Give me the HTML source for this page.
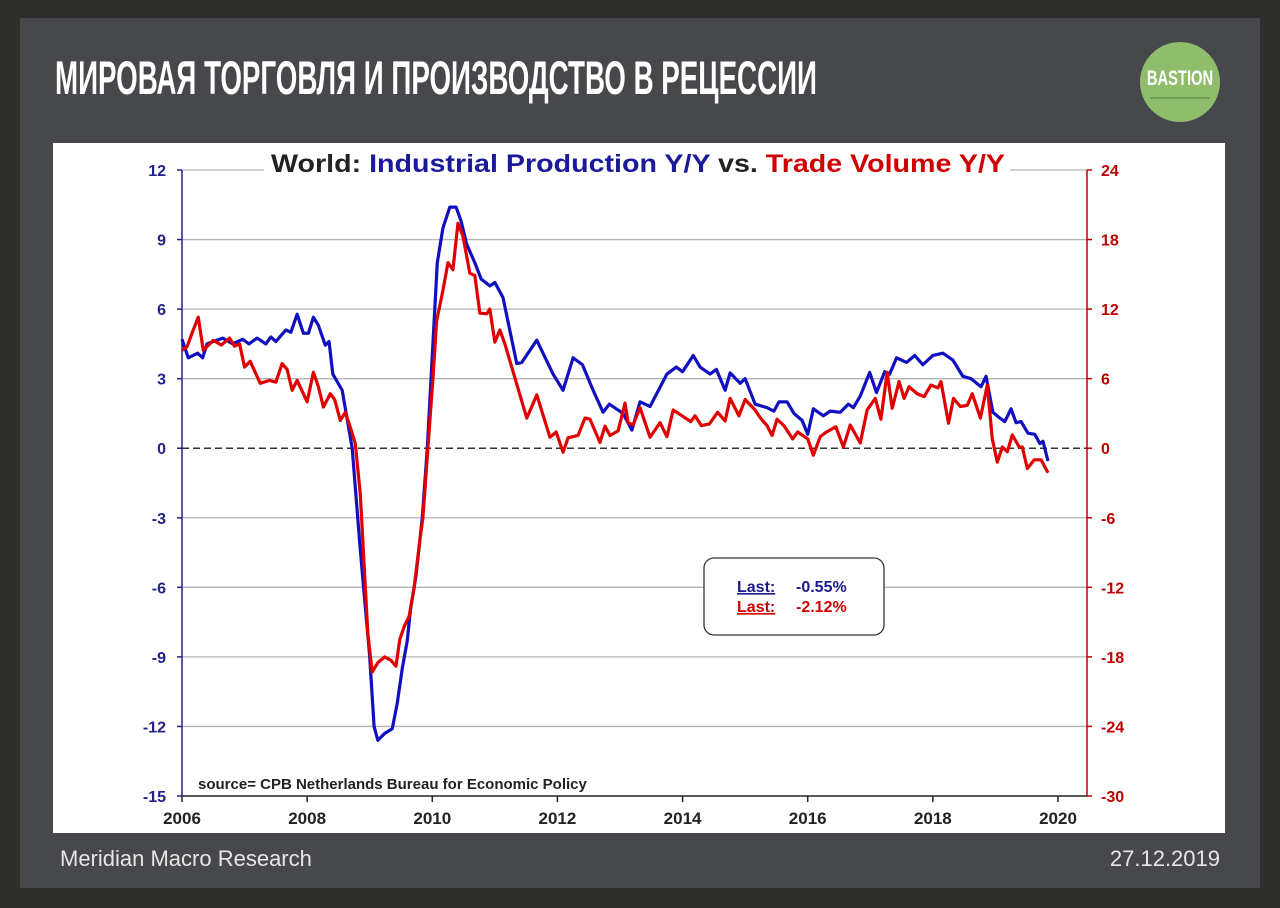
<!DOCTYPE html>
<html><head><meta charset="utf-8">
<style>
html,body{margin:0;padding:0}
body{width:1280px;height:908px;background:#2e2f2c;position:relative;overflow:hidden;font-family:"Liberation Sans",sans-serif}
#panel{position:absolute;left:20px;top:18px;width:1240px;height:870px;background:#47484b}
#title{position:absolute;left:55px;top:52px;color:#fff;font-family:"Liberation Sans Narrow","Liberation Sans",sans-serif;font-weight:bold;font-size:47px;line-height:52px;white-space:nowrap;transform-origin:0 0}
#logo{position:absolute;left:1140px;top:42px;width:80px;height:80px;border-radius:50%;background:#8fbd6c}
#logo span{position:absolute;left:-20px;width:120px;top:25px;text-align:center;color:#fff;font-family:"Liberation Sans Narrow","Liberation Sans",sans-serif;font-weight:bold;font-size:21px;transform:scaleX(0.7);transform-origin:60px 0}
#logo i{position:absolute;left:10px;width:60px;top:55px;height:2px;background:#6f9a52}
#chart{position:absolute;left:53px;top:143px;width:1172px;height:690px;background:#fff}
.foot{position:absolute;color:#e6e6e6;font-size:22px;top:846px}
</style></head><body>
<div id="panel"></div>
<div id="title">МИРОВАЯ ТОРГОВЛЯ И ПРОИЗВОДСТВО В РЕЦЕССИИ</div>
<div id="logo"><span>BASTION</span><i></i></div>
<div id="chart"></div>
<svg id="svg" width="1280" height="908" style="position:absolute;left:0;top:0"></svg>
<div class="foot" style="left:60px">Meridian Macro Research</div>
<div class="foot" style="right:60px">27.12.2019</div>
<script>
const xTicks=[2006,2008,2010,2012,2014,2016,2018,2020];
const leftTicks=[12,9,6,3,0,-3,-6,-9,-12,-15];
const rightTicks=[24,18,12,6,0,-6,-12,-18,-24,-30];
const ipYears=[2006.0,2006.1,2006.25,2006.33,2006.4,2006.65,2006.81,2006.97,2007.07,2007.2,2007.34,2007.42,2007.5,2007.66,2007.74,2007.84,2007.94,2008.02,2008.1,2008.18,2008.29,2008.35,2008.41,2008.56,2008.72,2008.85,2009.0,2009.07,2009.13,2009.24,2009.36,2009.44,2009.52,2009.6,2009.65,2009.74,2009.84,2009.92,2010.0,2010.08,2010.17,2010.28,2010.38,2010.46,2010.55,2010.68,2010.78,2010.92,2011.0,2011.13,2011.35,2011.43,2011.67,2011.93,2012.09,2012.25,2012.4,2012.57,2012.73,2012.83,2013.05,2013.19,2013.32,2013.48,2013.75,2013.9,2014.0,2014.17,2014.28,2014.44,2014.54,2014.68,2014.76,2014.92,2015.0,2015.16,2015.35,2015.46,2015.54,2015.67,2015.78,2015.91,2016.0,2016.09,2016.25,2016.36,2016.52,2016.65,2016.73,2016.84,2016.99,2017.1,2017.23,2017.31,2017.42,2017.58,2017.71,2017.84,2018.0,2018.16,2018.32,2018.48,2018.61,2018.77,2018.85,2018.96,2019.07,2019.15,2019.25,2019.33,2019.41,2019.52,2019.63,2019.71,2019.76,2019.84];
const ipValues=[4.7,3.9,4.1,3.9,4.5,4.75,4.5,4.7,4.5,4.75,4.5,4.8,4.6,5.1,5.0,5.78,4.96,4.96,5.65,5.3,4.44,4.6,3.2,2.5,0,-4.4,-9,-12,-12.6,-12.3,-12.1,-11,-9.5,-8.3,-7,-5.5,-3,0,4,8,9.5,10.4,10.4,9.8,8.8,8.0,7.3,7.0,7.15,6.5,3.65,3.7,4.66,3.2,2.5,3.9,3.6,2.5,1.55,1.9,1.5,0.78,2.0,1.8,3.2,3.5,3.3,4.0,3.5,3.2,3.4,2.5,3.25,2.8,3.0,1.9,1.75,1.6,2.0,2.0,1.5,1.2,0.6,1.7,1.4,1.6,1.55,1.9,1.75,2.25,3.27,2.4,3.3,3.2,3.9,3.7,4.0,3.6,4.0,4.1,3.8,3.1,3.0,2.65,3.1,1.55,1.3,1.15,1.7,1.1,1.15,0.65,0.6,0.2,0.3,-0.55];
const tvYears=[2006.0,2006.08,2006.18,2006.26,2006.34,2006.5,2006.63,2006.76,2006.84,2006.92,2007.0,2007.09,2007.25,2007.4,2007.5,2007.6,2007.68,2007.76,2007.84,2008.0,2008.1,2008.18,2008.26,2008.37,2008.44,2008.53,2008.61,2008.69,2008.77,2008.85,2008.91,2008.97,2009.04,2009.13,2009.24,2009.34,2009.42,2009.48,2009.55,2009.63,2009.71,2009.8,2009.85,2009.93,2010.01,2010.07,2010.17,2010.25,2010.33,2010.41,2010.49,2010.6,2010.68,2010.76,2010.87,2010.92,2011.0,2011.08,2011.16,2011.51,2011.67,2011.88,2011.98,2012.09,2012.17,2012.33,2012.44,2012.52,2012.68,2012.76,2012.84,2012.97,2013.08,2013.13,2013.21,2013.32,2013.48,2013.64,2013.75,2013.85,2014.13,2014.2,2014.3,2014.43,2014.56,2014.68,2014.76,2014.9,2015.0,2015.15,2015.26,2015.35,2015.43,2015.51,2015.62,2015.76,2015.84,2016.0,2016.09,2016.2,2016.3,2016.45,2016.57,2016.68,2016.84,2016.95,2017.08,2017.17,2017.27,2017.35,2017.46,2017.54,2017.62,2017.75,2017.86,2017.97,2018.08,2018.13,2018.25,2018.33,2018.44,2018.55,2018.63,2018.76,2018.87,2018.95,2019.03,2019.11,2019.19,2019.27,2019.38,2019.43,2019.51,2019.62,2019.73,2019.84];
const tvValues=[8.45,8.75,10.2,11.3,8.45,9.3,8.9,9.5,8.8,9.0,7.0,7.5,5.6,5.85,5.7,7.3,6.8,5.0,5.85,4.0,6.55,5.3,3.55,4.7,4.2,2.4,3.1,1.8,0.4,-4,-10,-16,-19.3,-18.5,-18.0,-18.3,-18.8,-16.5,-15.4,-14.5,-12,-8,-6,0,6,11,13.6,16.0,15.4,19.4,18.3,15.1,14.9,11.65,11.6,12.0,9.15,10.2,9.0,2.6,4.6,0.95,1.4,-0.35,0.9,1.1,2.6,2.5,0.5,1.9,1.1,1.5,3.9,2.2,2.0,3.5,0.95,2.2,1.0,3.3,2.3,2.8,1.95,2.1,3.1,2.35,4.3,2.8,4.2,3.35,2.5,1.95,1.1,2.5,1.95,0.8,1.4,0.8,-0.6,1.0,1.4,1.85,0.1,2.0,0.45,3.3,4.3,2.5,6.55,3.45,5.75,4.3,5.3,4.7,4.45,5.45,5.2,5.75,2.15,4.3,3.6,3.7,4.7,2.6,5.45,0.8,-1.2,0.1,-0.3,1.15,0.1,0.1,-1.75,-1.0,-1.0,-2.12];

const L=182,R=1087,T=170,B=796;
const X=y=>L+(y-2006)*(1058-182)/14;
const YL=v=>T+(12-v)*(B-T)/27;
const YR=v=>T+(24-v)*(B-T)/54;
const svg=document.getElementById('svg');
const NS='http://www.w3.org/2000/svg';
function mk(tag,attrs,parent){const e=document.createElementNS(NS,tag);for(const k in attrs)e.setAttribute(k,attrs[k]);(parent||svg).appendChild(e);return e;}
leftTicks.forEach(v=>{if(v!==0&&v!==-15){const g=mk('line',{x1:L,x2:R,y1:YL(v),y2:YL(v),stroke:'#b4b4b4','stroke-width':1.3});

}});
const z=mk('line',{x1:L,x2:R,y1:YL(0),y2:YL(0),stroke:'#333','stroke-width':1.5,'stroke-dasharray':'7,4'});


const la=mk('line',{x1:L,x2:L,y1:T,y2:B,stroke:'#22228a','stroke-width':1.5});


const ra=mk('line',{x1:R,x2:R,y1:T,y2:B,stroke:'#c00000','stroke-width':1.5});


const ba=mk('line',{x1:L,x2:R,y1:B,y2:B,stroke:'#222','stroke-width':1.5});


leftTicks.forEach(v=>{mk('line',{x1:L-5,x2:L,y1:YL(v),y2:YL(v),stroke:'#22228a','stroke-width':1.5});
const t=mk('text',{x:L-16,y:YL(v)+6,'text-anchor':'end','font-size':16,'font-weight':'bold',fill:'#22228a'});t.textContent=v;

});
rightTicks.forEach(v=>{mk('line',{x1:R,x2:R+5,y1:YR(v),y2:YR(v),stroke:'#c00000','stroke-width':1.5});
const t=mk('text',{x:R+14,y:YR(v)+6,'font-size':16,'font-weight':'bold',fill:'#c00000'});t.textContent=v;

});
xTicks.forEach(y=>{mk('line',{x1:X(y),x2:X(y),y1:B,y2:B+6,stroke:'#222','stroke-width':1.5});
const t=mk('text',{x:X(y),y:B+28,'text-anchor':'middle','font-size':17,'font-weight':'bold',fill:'#222'});t.textContent=y;

});
const pl=mk('polyline',{points:ipYears.map((y,i)=>X(y)+','+YL(ipValues[i])).join(' '),fill:'none',stroke:'#1010c0','stroke-width':3.2,'stroke-linejoin':'round'});


const pr=mk('polyline',{points:tvYears.map((y,i)=>X(y)+','+YR(tvValues[i])).join(' '),fill:'none',stroke:'#e00000','stroke-width':3.2,'stroke-linejoin':'round'});


mk('rect',{x:264,y:146,width:746,height:34,fill:'#fff'});
const tt=mk('text',{x:271,y:172,'font-size':25,'font-weight':'bold',textLength:734,lengthAdjust:'spacingAndGlyphs'});
tt.innerHTML='<tspan fill="#222">World: </tspan><tspan fill="#1a1a9a">Industrial Production Y/Y </tspan><tspan fill="#222">vs. </tspan><tspan fill="#d00000">Trade Volume Y/Y</tspan>';


const lb=mk('rect',{x:704,y:558,width:180,height:77,rx:10,fill:'#fff',stroke:'#333','stroke-width':1.3});


const l1=mk('text',{x:737,y:592,'font-size':16,'font-weight':'bold',fill:'#1a1a8a'});l1.innerHTML='<tspan text-decoration="underline">Last:</tspan><tspan x="796">-0.55%</tspan>';


const l2=mk('text',{x:737,y:612,'font-size':16,'font-weight':'bold',fill:'#d00000'});l2.innerHTML='<tspan text-decoration="underline">Last:</tspan><tspan x="796">-2.12%</tspan>';


const src=mk('text',{x:198,y:789,'font-size':15,'font-weight':'bold',fill:'#222'});src.textContent='source= CPB Netherlands Bureau for Economic Policy';


const ti=document.getElementById('title');const w=ti.getBoundingClientRect().width;ti.style.transform='scaleX('+(762/w)+')';
</script>
</body></html>
